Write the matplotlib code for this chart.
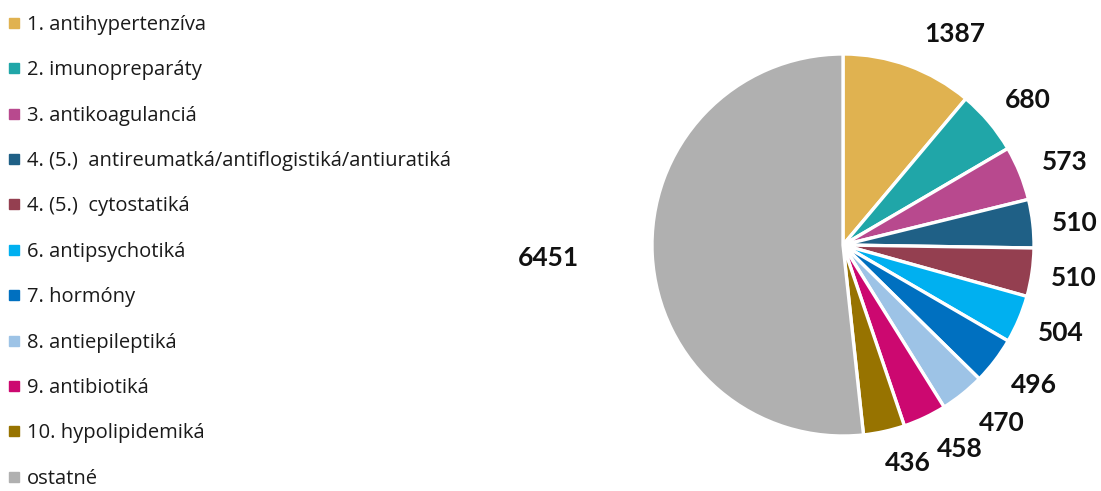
import numpy as np
import matplotlib
matplotlib.use("Agg")
import matplotlib.pyplot as plt
from matplotlib.lines import Line2D

# Drug groups and counts
categories = [
    "1. antihypertenzíva",
    "2. imunopreparáty",
    "3. antikoagulanciá",
    "4. (5.)  antireumatká/antiflogistiká/antiuratiká",
    "4. (5.)  cytostatiká",
    "6. antipsychotiká",
    "7. hormóny",
    "8. antiepileptiká",
    "9. antibiotiká",
    "10. hypolipidemiká",
    "ostatné",
]
values = [1387, 680, 573, 510, 510, 504, 496, 470, 458, 436, 6451]
colors = ["#E0B250", "#20A6A8", "#B8498E", "#1F6086", "#943F50", "#00B0F0",
          "#0070C0", "#9DC3E6", "#CC0870", "#977300", "#B0B0B0"]

# label placement: distance from centre (in radii) and a small angle nudge
label_dist = [1.25, 1.23, 1.24, 1.22, 1.22, 1.23, 1.24, 1.25, 1.23, 1.19, 1.545]
label_nudge = [-8, -2, -1.5, -1, 0, 1, 1, 3, 4.5, 4, -0.5]

W, H = 1101, 491
fig = plt.figure(figsize=(W / 100, H / 100), dpi=100)

# pie axes: centre at (843, 245) px, radius 191 px
R = 191
cx, cy = 843, 245
half = 1.6 * R
ax = fig.add_axes([(cx - half) / W, (H - cy - half) / H, 2 * half / W, 2 * half / H])

wedges, _ = ax.pie(values, colors=colors, startangle=90, counterclock=False,
                   radius=1, wedgeprops=dict(edgecolor="white", linewidth=2.4))
ax.set_xlim(-1.6, 1.6)
ax.set_ylim(-1.6, 1.6)
ax.axis("off")

for w, v, d, n in zip(wedges, values, label_dist, label_nudge):
    mid = np.deg2rad((w.theta1 + w.theta2) / 2 + n)
    ax.text(d * np.cos(mid), d * np.sin(mid), str(v), ha="center", va="center",
            fontsize=19, fontweight="bold", family="Lato", color="#111111")

# legend on the left
handles = [Line2D([], [], marker="s", linestyle="none", markersize=6.5,
                  markerfacecolor=c, markeredgecolor=c) for c in colors]
fig.legend(handles, categories, loc="upper left", bbox_to_anchor=(8 / W, 1 - 15 / H),
           frameon=False, prop=dict(family="Open Sans", size=14.5), labelspacing=1.26,
           handlelength=0.55, handletextpad=0.4, borderpad=0, borderaxespad=0,
           labelcolor="#1a1a1a")

fig.savefig("out.png", dpi=100)
